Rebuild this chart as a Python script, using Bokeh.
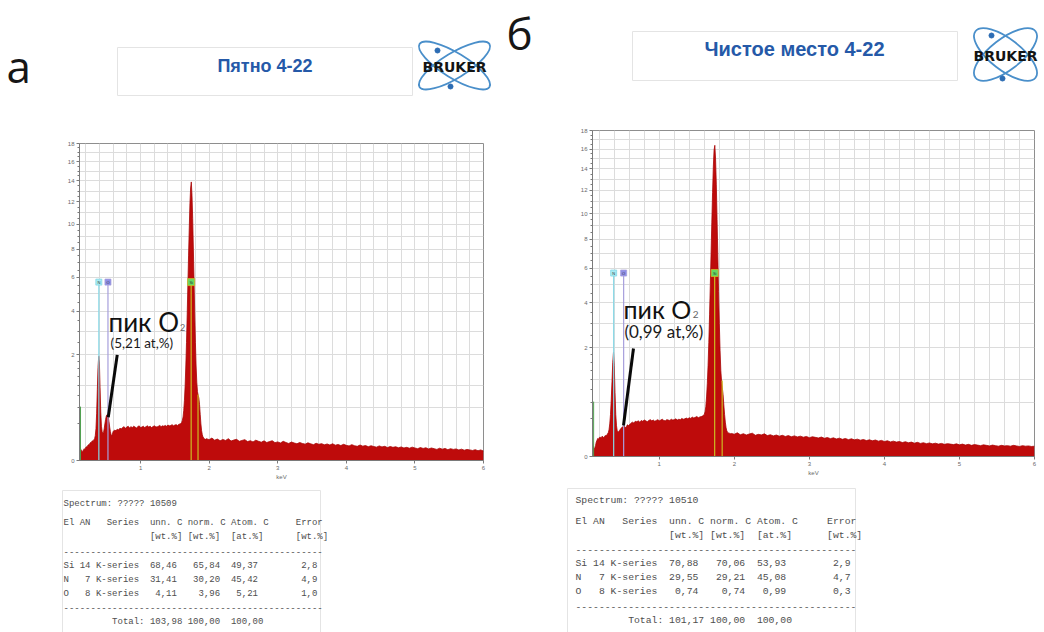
import numpy as np
from bokeh.plotting import figure
from bokeh.layouts import row, column
from bokeh.models import Range1d, FixedTicker, CustomJSTickFormatter, Label
from bokeh.core.properties import value
from bokeh.embed import file_html
from bokeh.resources import INLINE

# ---------------------------------------------------------------- data
panel_letters = ["а", "б"]
titles = ["Пятно 4-22", "Чистое место 4-22"]
spectrum_ids = ["10509", "10510"]

x_tick_values = [1, 2, 3, 4, 5, 6]
y_tick_values = [0, 2, 4, 6, 8, 10, 12, 14, 16, 18]
y_grid_values = [0.5, 1, 2, 3, 4, 5, 6, 7, 8, 9, 10, 11, 12, 13, 14, 15, 16, 17, 18]
y_minor_values = [0.25, 0.5, 0.75, 1, 1.25, 1.5, 1.75, 2.5, 3, 3.5, 4.5, 5, 5.5, 6.5, 7, 7.5,
                  8.5, 9, 9.5, 10.5, 11, 11.5, 12.5, 13, 13.5, 14.5, 15, 15.5, 16.5, 17, 17.5]

# spectrum a (cps/eV); segments: 0.10-0.59 by 0.01, 0.60-1.58 by 0.02, 1.60-1.95 by 0.01, 1.96-6.00 by 0.04
spec_a_low = [0.040, 0.038, 0.030, 0.022, 0.016, 0.014, 0.018, 0.020, 0.025, 0.022,
              0.030, 0.034, 0.032, 0.040, 0.045, 0.042, 0.052, 0.058, 0.055, 0.066,
              0.070, 0.064, 0.078, 0.085, 0.110, 0.180, 0.400, 0.900, 1.550, 1.950,
              1.700, 0.950, 0.420, 0.210, 0.150, 0.130, 0.140, 0.180, 0.240, 0.300,
              0.350, 0.375, 0.380, 0.340, 0.270, 0.200, 0.150, 0.120, 0.110, 0.125]
spec_a_mid = [0.150, 0.165, 0.160, 0.175, 0.170, 0.185, 0.180, 0.195, 0.205, 0.185,
              0.200, 0.210, 0.190, 0.205, 0.195, 0.210, 0.200, 0.190, 0.205, 0.215,
              0.195, 0.200, 0.210, 0.195, 0.205, 0.215, 0.200, 0.210, 0.195, 0.205,
              0.215, 0.205, 0.200, 0.210, 0.220, 0.205, 0.215, 0.210, 0.220, 0.210,
              0.225, 0.215, 0.220, 0.230, 0.215, 0.225, 0.230, 0.220, 0.235, 0.240]
spec_a_peak = [0.260, 0.290, 0.340, 0.450, 0.650, 1.000, 1.600, 2.500, 3.800, 5.500,
               7.500, 9.600, 11.80, 13.30, 13.90, 12.60, 10.50, 8.000, 5.800, 3.900,
               2.500, 1.600, 1.100, 0.850, 0.760, 0.700, 0.560, 0.380, 0.240, 0.160,
               0.120, 0.100, 0.090, 0.085, 0.082, 0.080]
spec_a_tail = [0.085, 0.078, 0.090, 0.074, 0.082, 0.070, 0.079, 0.072, 0.085, 0.068,
               0.075, 0.080, 0.066, 0.072, 0.078, 0.064, 0.070, 0.062, 0.074, 0.066,
               0.060, 0.069, 0.058, 0.064, 0.070, 0.057, 0.062, 0.055, 0.066, 0.058,
               0.052, 0.061, 0.055, 0.050, 0.058, 0.052, 0.048, 0.056, 0.050, 0.045,
               0.053, 0.047, 0.051, 0.044, 0.049, 0.043, 0.050, 0.042, 0.046, 0.040,
               0.047, 0.041, 0.038, 0.045, 0.039, 0.036, 0.043, 0.037, 0.040, 0.034,
               0.039, 0.035, 0.032, 0.038, 0.033, 0.036, 0.030, 0.035, 0.031, 0.034,
               0.029, 0.033, 0.028, 0.031, 0.027, 0.032, 0.028, 0.025, 0.030, 0.026,
               0.029, 0.024, 0.028, 0.025, 0.022, 0.027, 0.023, 0.026, 0.021, 0.025,
               0.022, 0.024, 0.020, 0.023, 0.019, 0.022, 0.020, 0.018, 0.021, 0.017,
               0.020, 0.016]

# spectrum б
spec_b_low = [0.045, 0.040, 0.015, 0.008, 0.012, 0.020, 0.035, 0.045, 0.055, 0.050,
              0.060, 0.065, 0.058, 0.062, 0.070, 0.064, 0.060, 0.068, 0.075, 0.070,
              0.080, 0.085, 0.095, 0.120, 0.180, 0.300, 0.550, 0.950, 1.500, 1.850,
              1.400, 0.700, 0.300, 0.160, 0.110, 0.100, 0.105, 0.115, 0.125, 0.135,
              0.140, 0.150, 0.145, 0.155, 0.150, 0.140, 0.150, 0.165, 0.170, 0.160]
spec_b_mid = [0.170, 0.185, 0.200, 0.190, 0.210, 0.205, 0.215, 0.200, 0.220, 0.210,
              0.225, 0.215, 0.205, 0.220, 0.230, 0.215, 0.225, 0.210, 0.220, 0.230,
              0.215, 0.225, 0.235, 0.220, 0.215, 0.230, 0.225, 0.220, 0.235, 0.225,
              0.230, 0.240, 0.225, 0.235, 0.230, 0.245, 0.235, 0.240, 0.250, 0.240,
              0.255, 0.245, 0.265, 0.250, 0.260, 0.270, 0.255, 0.265, 0.270, 0.280]
spec_b_peak = [0.300, 0.340, 0.420, 0.600, 0.900, 1.400, 2.200, 3.400, 5.000, 7.000,
               9.300, 11.80, 14.20, 15.90, 16.40, 15.00, 12.50, 9.500, 6.800, 4.600,
               3.000, 1.900, 1.250, 0.950, 0.800, 0.650, 0.450, 0.300, 0.200, 0.140,
               0.110, 0.100, 0.095, 0.090, 0.092, 0.088]
spec_b_tail = [0.090, 0.084, 0.095, 0.080, 0.088, 0.078, 0.086, 0.092, 0.076, 0.083,
               0.079, 0.087, 0.074, 0.080, 0.072, 0.078, 0.070, 0.076, 0.068, 0.074,
               0.066, 0.072, 0.065, 0.070, 0.063, 0.068, 0.060, 0.066, 0.062, 0.058,
               0.064, 0.056, 0.061, 0.054, 0.059, 0.052, 0.057, 0.050, 0.055, 0.048,
               0.053, 0.047, 0.051, 0.045, 0.049, 0.043, 0.047, 0.042, 0.046, 0.040,
               0.044, 0.038, 0.042, 0.036, 0.040, 0.035, 0.038, 0.033, 0.037, 0.032,
               0.035, 0.030, 0.034, 0.029, 0.032, 0.028, 0.031, 0.027, 0.030, 0.026,
               0.029, 0.025, 0.028, 0.026, 0.024, 0.027, 0.023, 0.026, 0.022, 0.025,
               0.021, 0.024, 0.022, 0.020, 0.023, 0.021, 0.019, 0.022, 0.020, 0.018,
               0.021, 0.019, 0.020, 0.018, 0.021, 0.019, 0.017, 0.020, 0.018, 0.019,
               0.017, 0.018]

# element markers
marker_elements = ["N", "O", "Si"]
marker_energy = [0.392, 0.525, 1.738]
marker_line_colors = ["#86d8e6", "#a79fdc", "#cdbb22"]
marker_box_colors = ["#a9ecf4", "#8f8fe8", "#63d863"]
marker_level = 5.7            # cps/eV of the label boxes
si_kb_energy = 1.838
si_kb_height = [0.78, 0.98]   # a, б
zero_peak_energy = 0.125
zero_peak_height = [0.52, 0.51]

# quantification tables
elements = ["Si", "N", "O"]
atomic_numbers = [14, 7, 8]
unn_a = [68.46, 31.41, 4.11]
norm_a = [65.84, 30.20, 3.96]
atom_a = [49.37, 45.42, 5.21]
err_a = [2.8, 4.9, 1.0]
total_a = [103.98, 100.00, 100.00]
unn_b = [70.88, 29.55, 0.74]
norm_b = [70.06, 29.21, 0.74]
atom_b = [53.93, 45.08, 0.99]
err_b = [2.9, 4.7, 0.3]
total_b = [101.17, 100.00, 100.00]

RED = "#be0b0b"
NB = "\u00a0"


def energies(low, mid, peak, tail):
    return np.concatenate([0.10 + 0.01 * np.arange(len(low)),
                           0.60 + 0.02 * np.arange(len(mid)),
                           1.60 + 0.01 * np.arange(len(peak)),
                           1.96 + 0.04 * np.arange(len(tail))])


def blank(width, height):
    p = figure(width=width, height=height, x_range=Range1d(0, width), y_range=Range1d(height, 0),
               output_backend="svg", toolbar_location=None, x_axis_location=None,
               y_axis_location=None, min_border=0, frame_align=False)
    p.grid.visible = False
    p.outline_line_color = None
    p.background_fill_color = "white"
    p.border_fill_color = "white"
    return p


def header(width, height, letter, letter_xy, title, box, title_xy, title_size, logo):
    p = blank(width, height)
    p.text(x=[letter_xy[0]], y=[letter_xy[1]], text=[letter], text_font=value("Open Sans"),
           text_font_size="44px", text_color="#161616", text_baseline="middle", text_align="left")
    x0, x1, y0, y1 = box
    p.quad(left=[x0], right=[x1], top=[y0], bottom=[y1], fill_color="white",
           line_color="#e4e4e4", line_width=1)
    p.text(x=[title_xy[0]], y=[title_xy[1]], text=[title], text_font=value("Liberation Sans"),
           text_font_style="bold", text_font_size=title_size, text_color="#2559a8",
           text_align="center", text_baseline="middle")
    cx, cy, ew, eh, ang, dots = logo
    p.ellipse(x=[cx, cx], y=[cy, cy], width=[ew, ew], height=[eh, eh],
              angle=[ang, -ang], fill_color=None, line_color="#4a8fca", line_width=1.8)
    p.scatter(x=[cx + d[0] for d in dots], y=[cy + d[1] for d in dots], size=5,
              color="#2d6db4")
    p.text(x=[cx], y=[cy + 1], text=["BRUKER"], text_font=value("DejaVu Sans"),
           text_font_style="bold", text_font_size="14px", text_color="#141414",
           text_align="center", text_baseline="middle")
    return p


def fmt(v, n=2):
    return f"{v:.{n}f}".replace(".", ",")


def table(width, height, sid, unn, norm, atom, err, total, tx, rows_y, box, size):
    p = blank(width, height)
    x0, x1, y0 = box
    p.quad(left=[x0], right=[x1], top=[y0], bottom=[height + 5], fill_color="white",
           line_color="#e4e4e4", line_width=1)
    lines = [f"Spectrum: ????? {sid}",
             "El AN   Series  unn. C norm. C Atom. C     Error",
             " " * 16 + "[wt.%] [wt.%]  [at.%]      [wt.%]",
             "-" * 48]
    for el, an, u, n, a, e in zip(elements, atomic_numbers, unn, norm, atom, err):
        lines.append(f"{el:<2} {an:>2} K-series  {fmt(u):>5}   {fmt(n):>5}  {fmt(a):>5}{fmt(e, 1):>11}")
    lines.append("-" * 48)
    lines.append(" " * 9 + f"Total: {fmt(total[0]):>6} {fmt(total[1]):>6}  {fmt(total[2]):>6}")
    lines = [ln.replace(" ", NB) for ln in lines]
    p.text(x=[tx] * len(lines), y=rows_y, text=lines, text_font=value("Liberation Mono"),
           text_font_size=size, text_color="#4e4e4e", text_baseline="middle", text_align="left")
    return p


def spectrum(width, height, borders, E, counts, kb_h, zp_h, ann, ann_sizes):
    bl, br, bt, bb = borders
    p = figure(width=width, height=height, x_range=Range1d(0.11, 6.0),
               y_range=Range1d(0, np.sqrt(18)), output_backend="svg", toolbar_location=None,
               min_border_left=bl, min_border_right=br, min_border_top=bt, min_border_bottom=bb,
               frame_align=False)
    p.background_fill_color = "white"
    p.border_fill_color = "white"
    p.outline_line_color = "#8e8e8e"
    p.xgrid.ticker = FixedTicker(ticks=[round(0.2 * k, 2) for k in range(1, 31)])
    p.ygrid.ticker = FixedTicker(ticks=list(np.sqrt(y_grid_values)))
    for g in (p.xgrid, p.ygrid):
        g.grid_line_color = "#dcdcdc"
        g.grid_line_width = 1
    ax = p.xaxis[0]
    ax.ticker = FixedTicker(ticks=x_tick_values)
    ax.axis_label = "keV"
    ay = p.yaxis[0]
    ay.ticker = FixedTicker(ticks=list(np.sqrt(y_tick_values)), minor_ticks=list(np.sqrt(y_minor_values)))
    ay.formatter = CustomJSTickFormatter(code="return Math.round(tick*tick).toString();")
    for a in (ax, ay):
        a.axis_line_color = "#7a7a7a"
        a.major_tick_line_color = "#7a7a7a"
        a.minor_tick_line_color = "#7a7a7a"
        a.major_tick_out = 3
        a.major_tick_in = 0
        a.minor_tick_in = 0
        a.major_label_text_font_size = "6px"
        a.major_label_text_color = "#6a6a6a"
        a.major_label_standoff = 2
        a.axis_label_text_font_size = "6px"
        a.axis_label_text_font_style = "normal"
        a.axis_label_text_color = "#6a6a6a"
        a.axis_label_standoff = 1
    ax.minor_tick_out = 0
    ay.minor_tick_out = 2

    ys = np.sqrt(np.asarray(counts))
    p.varea(x=E, y1=np.zeros_like(ys), y2=ys, fill_color=RED)
    p.line(x=E, y=ys, line_color="#a80606", line_width=0.8)

    lvl = np.sqrt(marker_level)
    p.segment(x0=[zero_peak_energy], y0=[0], x1=[zero_peak_energy], y1=[np.sqrt(zp_h)],
              line_color="#4f9f4f", line_width=1)
    p.segment(x0=marker_energy, y0=[0] * 3, x1=marker_energy, y1=[lvl] * 3,
              line_color=marker_line_colors, line_width=1.2)
    p.segment(x0=[si_kb_energy], y0=[0], x1=[si_kb_energy], y1=[np.sqrt(kb_h)],
              line_color=marker_line_colors[2], line_width=1.2)
    p.scatter(x=marker_energy, y=[lvl] * 3, marker="square", size=[6, 6, 7],
              fill_color=marker_box_colors, line_color=marker_line_colors, line_width=0.8)
    p.text(x=marker_energy, y=[lvl] * 3, text=marker_elements, text_font_size="4px",
           text_color="#333333", text_align="center", text_baseline="middle")

    (lx0, ly0, lx1, ly1), (tx, ty), (sx, sy), (px, py), o_text = ann
    big, small, sub = ann_sizes
    p.segment(x0=[lx0], y0=[ly0], x1=[lx1], y1=[ly1], line_color="#0a0a0a", line_width=3)
    p.text(x=[tx], y=[ty], text=["пик O"], text_font=value("Lato"), text_font_size=big,
           text_color="#111111", text_baseline="middle")
    p.text(x=[sx], y=[sy], text=["2"], text_font=value("Lato"), text_font_size=sub,
           text_color="#666666", text_baseline="middle")
    p.text(x=[px], y=[py], text=[o_text], text_font=value("Lato"), text_font_size=small,
           text_color="#1a1a1a", text_baseline="middle")

    p.add_layout(Label(x=0.11, y=np.sqrt(18), x_offset=1, y_offset=0.5, text="cps/eV",
                       text_font_size="5px", text_color="#6a6a6a", text_baseline="bottom"))
    return p


# ---------------------------------------------------------------- panels
WL, WR = 505, 539

E_a = energies(spec_a_low, spec_a_mid, spec_a_peak, spec_a_tail)
counts_a = spec_a_low + spec_a_mid + spec_a_peak + spec_a_tail
E_b = energies(spec_b_low, spec_b_mid, spec_b_peak, spec_b_tail)
counts_b = spec_b_low + spec_b_mid + spec_b_peak + spec_b_tail

hL = header(WL, 128, panel_letters[0], (6, 65), titles[0], (117, 412, 47, 95), (264.5, 65), "18px",
            (454, 65, 82, 25, 0.55, [(-17, -15), (-4, 21)]))
hR = header(WR, 115, panel_letters[1], (1, 32), titles[1], (127, 452, 31, 80), (289, 48), "20px",
            (500, 54, 76, 31, 0.66, [(-14, -19), (-3, 24)]))

ann_a = ((0.660, 1.414, 0.529, 0.578), (0.533, 1.848), (1.575, 1.78), (0.563, 1.574),
         f"({fmt(atom_a[2])} at,%)")
ann_b = ((0.656, 1.406, 0.523, 0.403), (0.523, 1.921), (1.445, 1.85), (0.536, 1.627),
         f"({fmt(atom_b[2])} at,%)")

sL = spectrum(WL, 354, (79, 22, 15, 21), E_a, counts_a, si_kb_height[0], zero_peak_height[0],
              ann_a, ("26px", "13.5px", "9px"))
sR = spectrum(WR, 365, (87, 10, 15, 24), E_b, counts_b, si_kb_height[1], zero_peak_height[1],
              ann_b, ("25px", "17px", "10px"))

tL = table(WL, 150, spectrum_ids[0], unn_a, norm_a, atom_a, err_a, total_a, 63,
           [21, 40, 54, 69, 83, 97, 111, 125, 139], (62, 320, 8), "9px")
tR = table(WR, 152, spectrum_ids[1], unn_b, norm_b, atom_b, err_b, total_b, 70,
           [20, 41, 55, 69, 83, 97, 111, 126, 140], (62, 350, 8), "9.75px")

layout = row(column(hL, sL, tL), column(hR, sR, tR))

open("out.html", "w").write(file_html(layout, INLINE))
